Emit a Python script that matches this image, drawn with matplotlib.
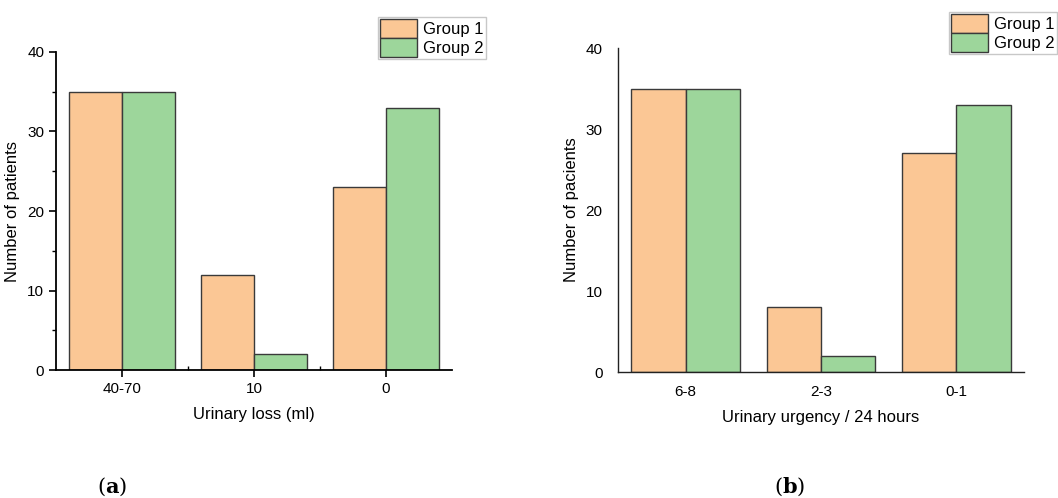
import matplotlib
matplotlib.use('Agg')
import matplotlib.pyplot as plt
import numpy as np
from matplotlib.ticker import MultipleLocator, FixedLocator

plt.rcParams['font.family'] = ['Liberation Sans', 'DejaVu Sans']

# data
loss_cats = ['40-70', '10', '0']
loss_g1 = [35, 12, 23]
loss_g2 = [35, 2, 33]

urg_cats = ['6-8', '2-3', '0-1']
urg_g1 = [35, 8, 27]
urg_g2 = [35, 2, 33]

groups = ['Group 1', 'Group 2']
c1 = '#fbc795'
c2 = '#9dd69b'

fig = plt.figure(figsize=(10.58, 4.98), dpi=100)
ax1 = fig.add_axes([0.0529, 0.257, 0.3743, 0.6386])
ax2 = fig.add_axes([0.584, 0.253, 0.384, 0.6506])


def bars(ax, cats, g1, g2, ylabel, xlabel):
    x = np.arange(len(cats))
    w = 0.4
    b1 = ax.bar(x - w / 2, g1, w, color=c1, edgecolor='#3a3a3a', linewidth=1.0, label=groups[0])
    b2 = ax.bar(x + w / 2, g2, w, color=c2, edgecolor='#3a3a3a', linewidth=1.0, label=groups[1])
    ax.set_xlim(-0.5, len(cats) - 0.5)
    ax.set_ylim(0, 40)
    ax.set_xticks(x)
    ax.set_xticklabels(cats)
    ax.yaxis.set_major_locator(MultipleLocator(10))
    ax.spines['top'].set_visible(False)
    ax.spines['right'].set_visible(False)
    ax.set_ylabel(ylabel, fontsize=12, labelpad=5)
    ax.set_xlabel(xlabel, fontsize=12, labelpad=8)
    return b1, b2


h1 = bars(ax1, loss_cats, loss_g1, loss_g2, 'Number of patients', 'Urinary loss (ml)')
h2 = bars(ax2, urg_cats, urg_g1, urg_g2, 'Number of pacients', 'Urinary urgency / 24 hours')

# left panel: outward ticks, minor ticks
for s in ['left', 'bottom']:
    ax1.spines[s].set_linewidth(1.3)
    ax1.spines[s].set_color('black')
ax1.yaxis.set_minor_locator(MultipleLocator(5))
ax1.xaxis.set_minor_locator(FixedLocator([0.5, 1.5]))
ax1.tick_params(axis='both', which='major', direction='out', length=5, width=1.2, labelsize=11)
ax1.tick_params(axis='y', which='minor', direction='out', length=3, width=1)
ax1.tick_params(axis='x', which='minor', direction='in', length=3, width=1)

# right panel: no tick marks
for s in ['left', 'bottom']:
    ax2.spines[s].set_linewidth(1.0)
    ax2.spines[s].set_color('#222222')
ax2.tick_params(axis='both', length=0, labelsize=11, pad=9)
ax2.tick_params(axis='y', pad=11)

leg_kw = dict(fontsize=12, frameon=True, fancybox=False, edgecolor='#bbbbbb',
              handlelength=2.2, handleheight=1.3, labelspacing=0.05,
              borderpad=0.15, handletextpad=0.35, borderaxespad=0)
leg1 = fig.legend(h1, groups, loc='upper right', bbox_to_anchor=(486 / 1058, 1 - 17 / 498), **leg_kw)
leg2 = fig.legend(h2, groups, loc='upper right', bbox_to_anchor=(1057 / 1058, 1 - 12 / 498), **leg_kw)
for leg in (leg1, leg2):
    leg.get_frame().set_linewidth(1.0)

# panel captions
fig.text(112 / 1058, 1 - 487 / 498, r'$(\mathbf{a})$', math_fontfamily='dejavuserif',
         fontsize=15, ha='center', va='center')
fig.text(790 / 1058, 1 - 487 / 498, r'$(\mathbf{b})$', math_fontfamily='dejavuserif',
         fontsize=15, ha='center', va='center')

fig.savefig('out.png', dpi=100)
